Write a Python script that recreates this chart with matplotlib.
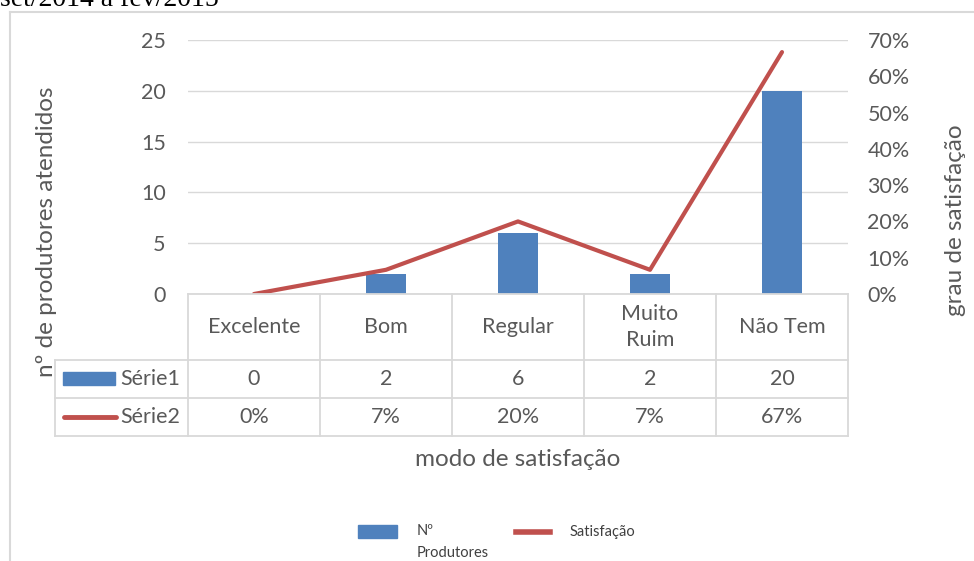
import matplotlib
matplotlib.use('Agg')
import matplotlib.pyplot as plt
from matplotlib.lines import Line2D
from matplotlib.patches import Rectangle

# data
categorias = ['Excelente', 'Bom', 'Regular', 'Muito\nRuim', 'Não Tem']
produtores = [0, 2, 6, 2, 20]
satisfacao = [0.0, 0.0667, 0.20, 0.0667, 0.6667]
rotulos_pct = ['0%', '7%', '20%', '7%', '67%']

azul = '#4F81BD'
vermelho = '#C0504D'
cinza = '#D9D9D9'
texto = '#595959'

plt.rcParams['font.family'] = ['Lato', 'DejaVu Sans']

W, H = 974, 561
fig = plt.figure(figsize=(W / 100, H / 100), dpi=100)

def fx(x):
    return x / W

def fy(y):
    return 1 - y / H

# plot area in pixels
x0, x1, ytop, ybot = 188, 848, 40, 294
ax = fig.add_axes([fx(x0), fy(ybot), fx(x1 - x0), (ybot - ytop) / H])
ax2 = ax.twinx()

xs = range(len(categorias))
ax.bar(xs, produtores, width=0.31, color=azul, zorder=2)
ax2.plot(xs, satisfacao, color=vermelho, lw=3, solid_capstyle='round', zorder=3)

ax.set_xlim(-0.5, len(categorias) - 0.5)
ax.set_ylim(0, 25)
ax.set_yticks([0, 5, 10, 15, 20, 25])
ax2.set_ylim(0, 0.7)
ax2.set_yticks([i / 10 for i in range(8)])
ax2.set_yticklabels([f'{i * 10}%' for i in range(8)])

fs = 15.5
for a in (ax, ax2):
    for s in a.spines.values():
        s.set_visible(False)
    a.tick_params(length=0, labelsize=fs, colors=texto)
ax.tick_params(axis='y', pad=16)
ax2.tick_params(axis='y', pad=14)
ax.set_xticks([])
ax.grid(axis='y', color=cinza, lw=1, zorder=0)
ax.set_axisbelow(True)
ax.patch.set_visible(False)

# table below the plot
lw = 1.3
def hline(y, xa, xb):
    fig.add_artist(Line2D([fx(xa), fx(xb)], [fy(y), fy(y)], color=cinza, lw=lw))

def vline(x, ya, yb):
    fig.add_artist(Line2D([fx(x), fx(x)], [fy(ya), fy(yb)], color=cinza, lw=lw))

r0, r1, r2, r3 = 294, 360, 398, 436
tl = 55
hline(r0, x0, x1)
for r in (r1, r2, r3):
    hline(r, tl, x1)
colw = (x1 - x0) / len(categorias)
for i in range(len(categorias) + 1):
    vline(x0 + i * colw, r0, r3)
vline(tl, r1, r3)

for i, c in enumerate(categorias):
    cx = x0 + (i + 0.5) * colw
    fig.text(fx(cx), fy((r0 + r1) / 2), c, ha='center', va='center',
             fontsize=fs, color=texto, linespacing=1.4)
    fig.text(fx(cx), fy((r1 + r2) / 2), str(produtores[i]), ha='center',
             va='center', fontsize=fs, color=texto)
    fig.text(fx(cx), fy((r2 + r3) / 2), rotulos_pct[i], ha='center',
             va='center', fontsize=fs, color=texto)

fig.add_artist(Rectangle((fx(63), fy(385)), fx(52), 13 / H, color=azul))
fig.text(fx(120), fy((r1 + r2) / 2), 'Série1', ha='left', va='center',
         fontsize=fs, color=texto)
fig.add_artist(Line2D([fx(64), fx(116)], [fy(417), fy(417)], color=vermelho,
                      lw=3.5, solid_capstyle='round'))
fig.text(fx(120), fy((r2 + r3) / 2), 'Série2', ha='left', va='center',
         fontsize=fs, color=texto)

# axis titles
fig.text(fx(47), fy(232), 'nº de produtores atendidos', rotation=90,
         ha='center', va='center', fontsize=17.5, color=texto)
fig.text(fx(955), fy(220), 'grau de satisfação', rotation=90,
         ha='center', va='center', fontsize=17.5, color=texto)
fig.text(fx(518), fy(460), 'modo de satisfação', ha='center', va='center',
         fontsize=17.5, color=texto)

# bottom legend
fig.add_artist(Rectangle((fx(358), fy(538)), fx(39), 13 / H, color=azul))
fig.text(fx(417), fy(524), 'Nº\nProdutores', ha='left', va='top',
         fontsize=10.5, color='#404040', linespacing=1.7)
fig.add_artist(Line2D([fx(516), fx(550)], [fy(532), fy(532)], color=vermelho,
                      lw=4))
fig.text(fx(570), fy(532), 'Satisfação', ha='left', va='center',
         fontsize=10.5, color='#404040')

# chart frame and clipped caption above
fig.add_artist(Line2D([fx(10), fx(10)], [fy(12), 0], color=cinza, lw=1.5))
fig.add_artist(Line2D([fx(10), 1], [fy(12), fy(12)], color=cinza, lw=1.5))
fig.text(0, fy(6), 'set/2014 a fev/2015', ha='left', va='baseline',
         fontsize=20, family='Liberation Serif', color='black')

fig.savefig('out.png', dpi=100)
